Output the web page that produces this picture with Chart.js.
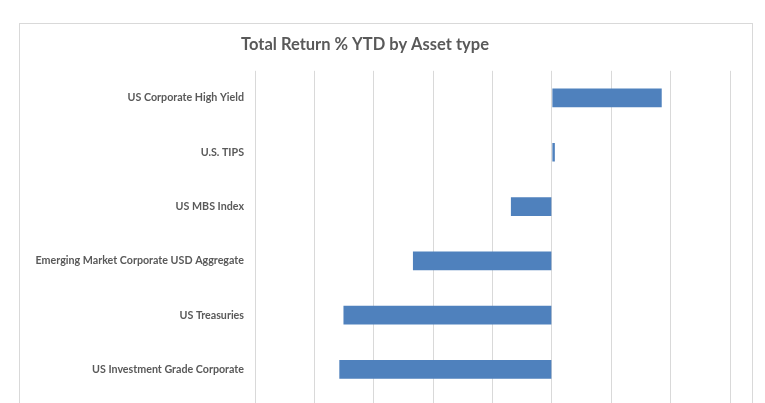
<!DOCTYPE html>
<html>
<head>
<meta charset="utf-8">
<script src="https://cdn.jsdelivr.net/npm/chart.js@4.4.0/dist/chart.umd.min.js"></script>
<style>
  html, body { margin: 0; padding: 0; background: #fff; overflow: hidden; }
  #wrap { position: relative; width: 765px; height: 403px; overflow: hidden; }
  #frame { position: absolute; left: 19px; top: 23px; width: 734px; height: 420px;
           border: 1px solid #d9d9d9; box-sizing: border-box; }
  canvas { position: absolute; left: 0; top: 0; }
</style>
</head>
<body>
<div id="wrap">
  <div id="frame"></div>
  <canvas id="chart" width="765" height="414"></canvas>
</div>
<script>
// Asset types and YTD total return (%)
const assetTypes = [
  "US Corporate High Yield",
  "U.S. TIPS",
  "US MBS Index",
  "Emerging Market Corporate USD Aggregate",
  "US Treasuries",
  "US Investment Grade Corporate"
];
const returnsYTD = [1.85, 0.05, -0.69, -2.34, -3.51, -3.58];
const axisMin = -5;
const axisMax = 3;
const axisStep = 1;

const ctx = document.getElementById("chart").getContext("2d");
new Chart(ctx, {
  type: "bar",
  data: {
    labels: assetTypes,
    datasets: [{
      data: returnsYTD,
      backgroundColor: "#4f81bd",
      borderWidth: 0,
      categoryPercentage: 1,
      barPercentage: 0.345
    }]
  },
  options: {
    indexAxis: "y",
    responsive: false,
    animation: false,
    layout: { padding: { left: 0, right: 35, top: 0, bottom: 0 } },
    plugins: {
      legend: { display: false },
      tooltip: { enabled: false },
      title: {
        display: true,
        text: "Total Return % YTD by Asset type",
        color: "#595959",
        font: { family: "Lato", size: 16.5, weight: "bold" },
        padding: { top: 35, bottom: 16 }
      }
    },
    scales: {
      x: {
        min: axisMin,
        max: axisMax,
        ticks: { stepSize: axisStep, display: false },
        grid: { color: "#d9d9d9", lineWidth: 1, drawTicks: true, tickLength: 8 },
        border: { display: false },
        afterFit: function (scale) { scale.height = 7; }
      },
      y: {
        grid: { display: false, drawTicks: false },
        border: { display: false },
        ticks: {
          color: "#595959",
          font: { family: "Lato", size: 10.7, weight: "bold" },
          padding: 11
        },
        afterFit: function (scale) { scale.width = 255; }
      }
    }
  }
});
</script>
</body>
</html>
